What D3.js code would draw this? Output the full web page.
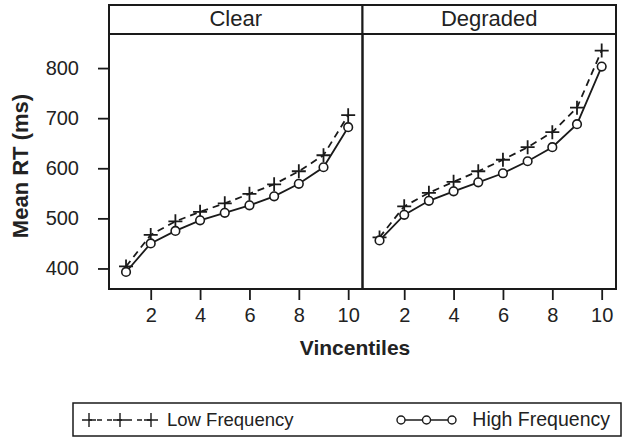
<!DOCTYPE html>
<html>
<head>
<meta charset="utf-8">
<script src="https://cdn.jsdelivr.net/npm/d3@7"></script>
<style>
  html, body { margin: 0; padding: 0; background: #fff; }
  svg { display: block; font-family: "Liberation Sans", Arial, Helvetica, sans-serif; }
</style>
</head>
<body>
<svg id="chart" width="626" height="438"></svg>
<script>
// Vincentile bins (1..10)
const vincentiles = [1, 2, 3, 4, 5, 6, 7, 8, 9, 10];
const panels = ["Clear", "Degraded"];
const seriesNames = ["Low Frequency", "High Frequency"];

// Mean RT (ms) per vincentile
const clearLow   = [404, 467, 494, 513, 530, 549, 568, 594, 626, 706];
const clearHigh  = [393, 450, 475, 496, 511, 526, 544, 569, 602, 682];
const degradedLow  = [462, 524, 551, 573, 594, 617, 642, 672, 721, 835];
const degradedHigh = [456, 507, 535, 554, 572, 590, 614, 642, 688, 803];

const xTicks = [2, 4, 6, 8, 10];
const yTicks = [400, 500, 600, 700, 800];

const panelData = {
  "Clear":    { low: clearLow, high: clearHigh },
  "Degraded": { low: degradedLow, high: degradedHigh }
};

const svg = d3.select("#chart");

const plotLeft = 109, plotRight = 616;
const stripTop = 5, stripBottom = 34, panelBottom = 289;
const panelW = (plotRight - plotLeft) / panels.length;

const y = d3.scaleLinear().domain([359, 868]).range([panelBottom, stripBottom]);

const ink = "#1a1a1a";
const textInk = "#222";

panels.forEach((name, i) => {
  const x0 = plotLeft + i * panelW;
  const x = d3.scaleLinear().domain([0.31, 10.58]).range([x0, x0 + panelW]);
  const g = svg.append("g");

  // strip
  g.append("rect")
    .attr("x", x0).attr("y", stripTop)
    .attr("width", panelW).attr("height", stripBottom - stripTop)
    .attr("fill", "#fff").attr("stroke", ink).attr("stroke-width", 2);
  g.append("text")
    .attr("x", x0 + panelW / 2).attr("y", (stripTop + stripBottom) / 2 + 1)
    .attr("text-anchor", "middle").attr("dominant-baseline", "middle")
    .attr("font-size", 22).attr("fill", textInk)
    .text(name);

  // x axis below the panel
  const xAxis = d3.axisBottom(x).tickValues(xTicks).tickSize(11).tickPadding(8).tickFormat(d3.format("d"));
  const ax = g.append("g").attr("transform", `translate(0,${panelBottom})`).call(xAxis);
  ax.select(".domain").remove();
  ax.selectAll(".tick line").attr("stroke", ink).attr("stroke-width", 1.8);
  ax.selectAll(".tick text").attr("font-size", 20).attr("fill", textInk)
    .attr("font-family", "Liberation Sans, Arial, sans-serif");

  const d = panelData[name];

  // low frequency: dashed line with plus markers
  const lineGen = d3.line().x((v, k) => x(vincentiles[k])).y(v => y(v));
  g.append("path").datum(d.low)
    .attr("d", lineGen).attr("fill", "none")
    .attr("stroke", ink).attr("stroke-width", 1.8).attr("stroke-dasharray", "7,5");
  // high frequency: solid line with open circles
  g.append("path").datum(d.high)
    .attr("d", lineGen).attr("fill", "none")
    .attr("stroke", ink).attr("stroke-width", 1.8);

  const plusSize = 7;
  g.selectAll(".plus").data(d.low).enter().append("path")
    .attr("d", (v, k) => {
      const cx = x(vincentiles[k]), cy = y(v);
      return `M${cx - plusSize},${cy}H${cx + plusSize}M${cx},${cy - plusSize}V${cy + plusSize}`;
    })
    .attr("stroke", ink).attr("stroke-width", 1.8).attr("fill", "none");

  g.selectAll(".circ").data(d.high).enter().append("circle")
    .attr("cx", (v, k) => x(vincentiles[k])).attr("cy", v => y(v))
    .attr("r", 4.3).attr("fill", "#fff").attr("stroke", ink).attr("stroke-width", 1.6);

  // panel frame
  g.append("rect")
    .attr("x", x0).attr("y", stripBottom)
    .attr("width", panelW).attr("height", panelBottom - stripBottom)
    .attr("fill", "none").attr("stroke", ink).attr("stroke-width", 2);
});

// y axis on the left panel
const yAxis = d3.axisLeft(y).tickValues(yTicks).tickSize(11).tickPadding(19);
const ay = svg.append("g").attr("transform", `translate(${plotLeft},0)`).call(yAxis);
ay.select(".domain").remove();
ay.selectAll(".tick line").attr("stroke", ink).attr("stroke-width", 1.8);
ay.selectAll(".tick text").attr("font-size", 20).attr("fill", textInk)
  .attr("font-family", "Liberation Sans, Arial, sans-serif");

// axis titles
svg.append("text")
  .attr("x", 355).attr("y", 355)
  .attr("text-anchor", "middle").attr("font-size", 21).attr("font-weight", "bold").attr("fill", textInk)
  .text("Vincentiles");
svg.append("text")
  .attr("transform", `translate(28,166) rotate(-90)`)
  .attr("text-anchor", "middle").attr("font-size", 22).attr("font-weight", "bold").attr("fill", textInk)
  .text("Mean RT (ms)");

// legend
const lg = svg.append("g");
lg.append("rect").attr("x", 73).attr("y", 403).attr("width", 548).attr("height", 33)
  .attr("fill", "#fff").attr("stroke", ink).attr("stroke-width", 1.5);
const legY = 420;
// low frequency key
const lowKeyX = d3.scaleLinear().domain([0, 2]).range([89, 151]);
lg.append("line").attr("x1", lowKeyX(0)).attr("x2", lowKeyX(2)).attr("y1", legY).attr("y2", legY)
  .attr("stroke", ink).attr("stroke-width", 1.4).attr("stroke-dasharray", "5,5").attr("stroke-dashoffset", -8);
[0, 1, 2].forEach(k => {
  const cx = lowKeyX(k);
  lg.append("path").attr("d", `M${cx - 7},${legY}H${cx + 7}M${cx},${legY - 7}V${legY + 7}`)
    .attr("stroke", ink).attr("stroke-width", 1.4);
});
lg.append("text").attr("x", 167).attr("y", legY + 1).attr("dominant-baseline", "middle")
  .attr("font-size", 18.5).attr("fill", textInk).text(seriesNames[0]);
// high frequency key
const highKeyX = d3.scaleLinear().domain([0, 2]).range([401, 452]);
lg.append("line").attr("x1", highKeyX(0)).attr("x2", highKeyX(2)).attr("y1", legY).attr("y2", legY)
  .attr("stroke", ink).attr("stroke-width", 1.4);
[0, 1, 2].forEach(k => {
  lg.append("circle").attr("cx", highKeyX(k)).attr("cy", legY).attr("r", 4)
    .attr("fill", "#fff").attr("stroke", ink).attr("stroke-width", 1.4);
});
lg.append("text").attr("x", 610).attr("y", legY + 1).attr("dominant-baseline", "middle")
  .attr("text-anchor", "end").attr("font-size", 19.5).attr("fill", textInk).text(seriesNames[1]);
</script>
</body>
</html>
